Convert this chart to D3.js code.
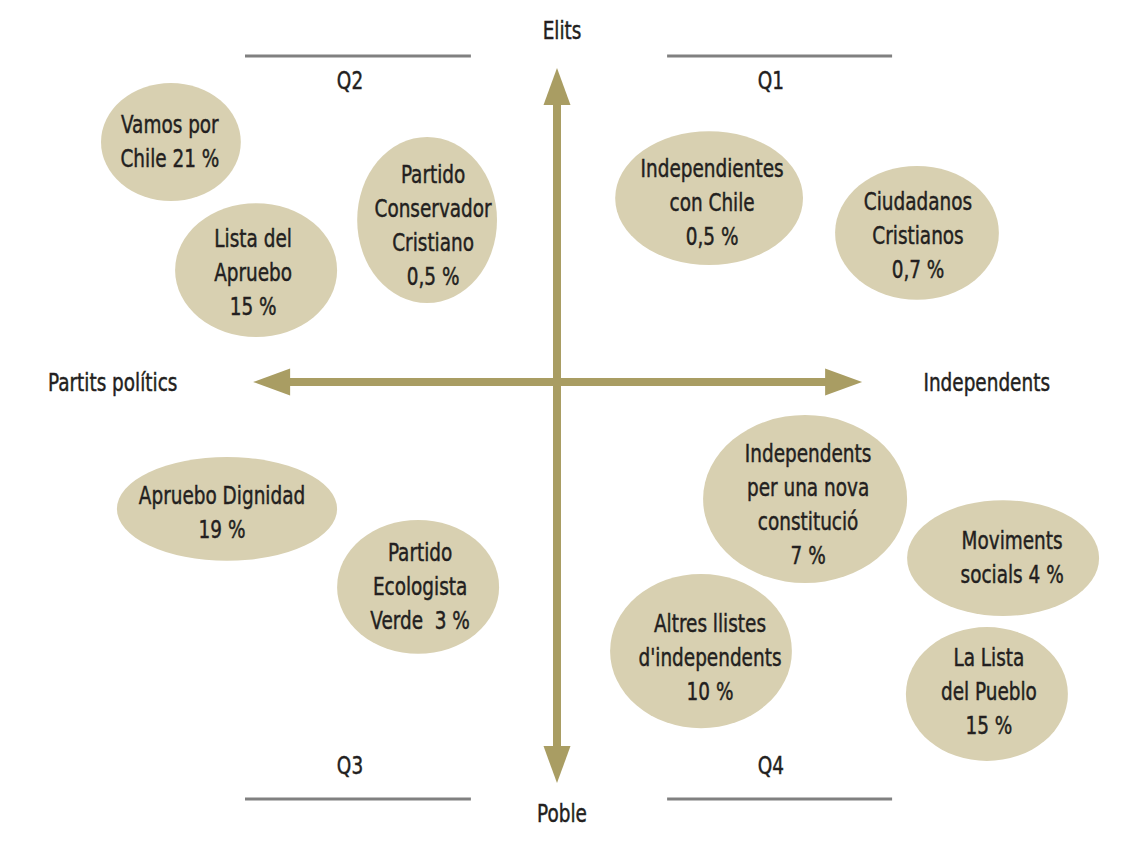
<!DOCTYPE html>
<html lang="ca">
<head>
	<meta charset="UTF-8">
	<title>Quadrants</title>
	<script type="text/javascript" src="https://cdn.jsdelivr.net/npm/d3@7/dist/d3.min.js"></script>
	<style>
		body { margin: 0; background: #fff; }
		text { font-family: "DejaVu Sans Condensed", "DejaVu Sans", sans-serif; fill: #231f20; stroke: #231f20; stroke-width: 0.45px; }
	</style>
</head>
<body>
	<div class="chart"></div>
	<script type="text/javascript">
		// candidatures: text lines, position on the map (partits -> independents, poble -> elits), ellipse radii
		var labels = [
			['Vamos por', 'Chile 21 %'],
			['Lista del', 'Apruebo', '15 %'],
			['Partido', 'Conservador', 'Cristiano', '0,5 %'],
			['Independientes', 'con Chile', '0,5 %'],
			['Ciudadanos', 'Cristianos', '0,7 %'],
			['Apruebo Dignidad', '19 %'],
			['Partido', 'Ecologista', 'Verde  3 %'],
			['Independents', 'per una nova', 'constitució', '7 %'],
			['Moviments', 'socials 4 %'],
			['Altres llistes', "d'independents", '10 %'],
			['La Lista', 'del Pueblo', '15 %']
		];
		var xPos = [-12.87, -10.03, -4.33, 5.07, 12.0, -11.0, -4.63, 8.27, 14.87, 4.8, 14.33];
		var yPos = [8.0, 3.73, 5.4, 6.13, 4.97, -4.23, -6.83, -3.9, -5.87, -8.97, -10.4];
		var rxs = [2.33, 2.7, 2.33, 3.13, 2.73, 3.67, 2.7, 3.4, 3.2, 3.03, 2.7];
		var rys = [1.97, 2.23, 2.77, 2.23, 2.23, 1.73, 2.23, 2.8, 1.93, 2.57, 2.23];

		var axisNames = ['Partits polítics', 'Independents', 'Elits', 'Poble'];
		var quadrants = ['Q1', 'Q2', 'Q3', 'Q4'];

		var W = 1143, H = 865;
		var svg = d3.select('.chart').append('svg').attr('width', W).attr('height', H);

		var x = d3.scaleLinear().domain([-10, 10]).range([257, 857]);
		var y = d3.scaleLinear().domain([-10, 10]).range([682, 82]);
		var k = 30; // px per unit
		var squeeze = 0.82; // condensed look

		var gold = '#a99d63', sand = '#d8d0b1', grey = '#808080';

		// text helper: condensed text anchored at (px, py)
		function label(parent, px, py, lines, anchor) {
			var t = parent.append('g')
				.attr('transform', 'translate(' + px + ',' + py + ') scale(' + squeeze + ',1)')
				.append('text')
				.attr('text-anchor', anchor || 'middle')
				.attr('font-size', 25)
				.attr('xml:space', 'preserve');
			t.selectAll('tspan').data(lines).enter().append('tspan')
				.attr('x', 0)
				.attr('y', function(s, j){ return (j - (lines.length - 1) / 2) * 34; })
				.attr('dominant-baseline', 'central')
				.text(function(s){ return s; });
			return t;
		}

		// quadrant rules
		var rules = [
			{x0: -10.4, x1: -2.87, y: 10.87}, {x0: 3.67, x1: 11.17, y: 10.87},
			{x0: -10.4, x1: -2.87, y: -13.9}, {x0: 3.67, x1: 11.17, y: -13.9}
		];
		svg.selectAll('line.rule').data(rules).enter().append('line')
			.attr('class', 'rule')
			.attr('x1', function(d){ return x(d.x0); })
			.attr('x2', function(d){ return x(d.x1); })
			.attr('y1', function(d){ return y(d.y); })
			.attr('y2', function(d){ return y(d.y); })
			.attr('stroke', grey).attr('stroke-width', 3);

		var qpos = [[7.13, 10.07], [-6.9, 10.07], [-6.9, -12.77], [7.13, -12.77]];
		quadrants.forEach(function(q, i){
			label(svg, x(qpos[i][0]), y(qpos[i][1]), [q]);
		});

		// axes with arrow heads
		var head = 37, half = 13.5;
		var xLeft = -10.13, xRight = 10.17, yTop = 10.47, yBottom = -13.37;
		svg.append('line')
			.attr('x1', x(xLeft) + head - 2).attr('x2', x(xRight) - head + 2)
			.attr('y1', y(0)).attr('y2', y(0))
			.attr('stroke', gold).attr('stroke-width', 8);
		svg.append('line')
			.attr('x1', x(0)).attr('x2', x(0))
			.attr('y1', y(yTop) + head - 2).attr('y2', y(yBottom) - head + 2)
			.attr('stroke', gold).attr('stroke-width', 8);

		var heads = [
			[[x(xLeft), y(0)], [x(xLeft) + head, y(0) - half], [x(xLeft) + head, y(0) + half]],
			[[x(xRight), y(0)], [x(xRight) - head, y(0) - half], [x(xRight) - head, y(0) + half]],
			[[x(0), y(yTop)], [x(0) - half, y(yTop) + head], [x(0) + half, y(yTop) + head]],
			[[x(0), y(yBottom)], [x(0) - half, y(yBottom) - head], [x(0) + half, y(yBottom) - head]]
		];
		svg.selectAll('polygon').data(heads).enter().append('polygon')
			.attr('points', function(d){ return d.join(' '); })
			.attr('fill', gold);

		// axis names
		label(svg, 48, y(0), [axisNames[0]], 'start');
		label(svg, 1050, y(0), [axisNames[1]], 'end');
		label(svg, x(0) + 5, 30, [axisNames[2]]);
		label(svg, x(0) + 5, 813, [axisNames[3]]);

		// ellipses
		var nudge = [[-1, -1], [-3, 2], [6, 5], [3, 4], [1, 2], [-5, 3], [2, -1], [3, 5], [9, -1], [9, 6], [2, -3]];
		var g = svg.selectAll('g.party').data(labels).enter().append('g')
			.attr('class', 'party');

		g.append('ellipse')
			.attr('cx', function(d, i){ return x(xPos[i]); })
			.attr('cy', function(d, i){ return y(yPos[i]); })
			.attr('rx', function(d, i){ return rxs[i] * k; })
			.attr('ry', function(d, i){ return rys[i] * k; })
			.attr('fill', sand);

		g.each(function(d, i){
			label(d3.select(this), x(xPos[i]) + nudge[i][0], y(yPos[i]) + nudge[i][1], d);
		});
	</script>
</body>
</html>
